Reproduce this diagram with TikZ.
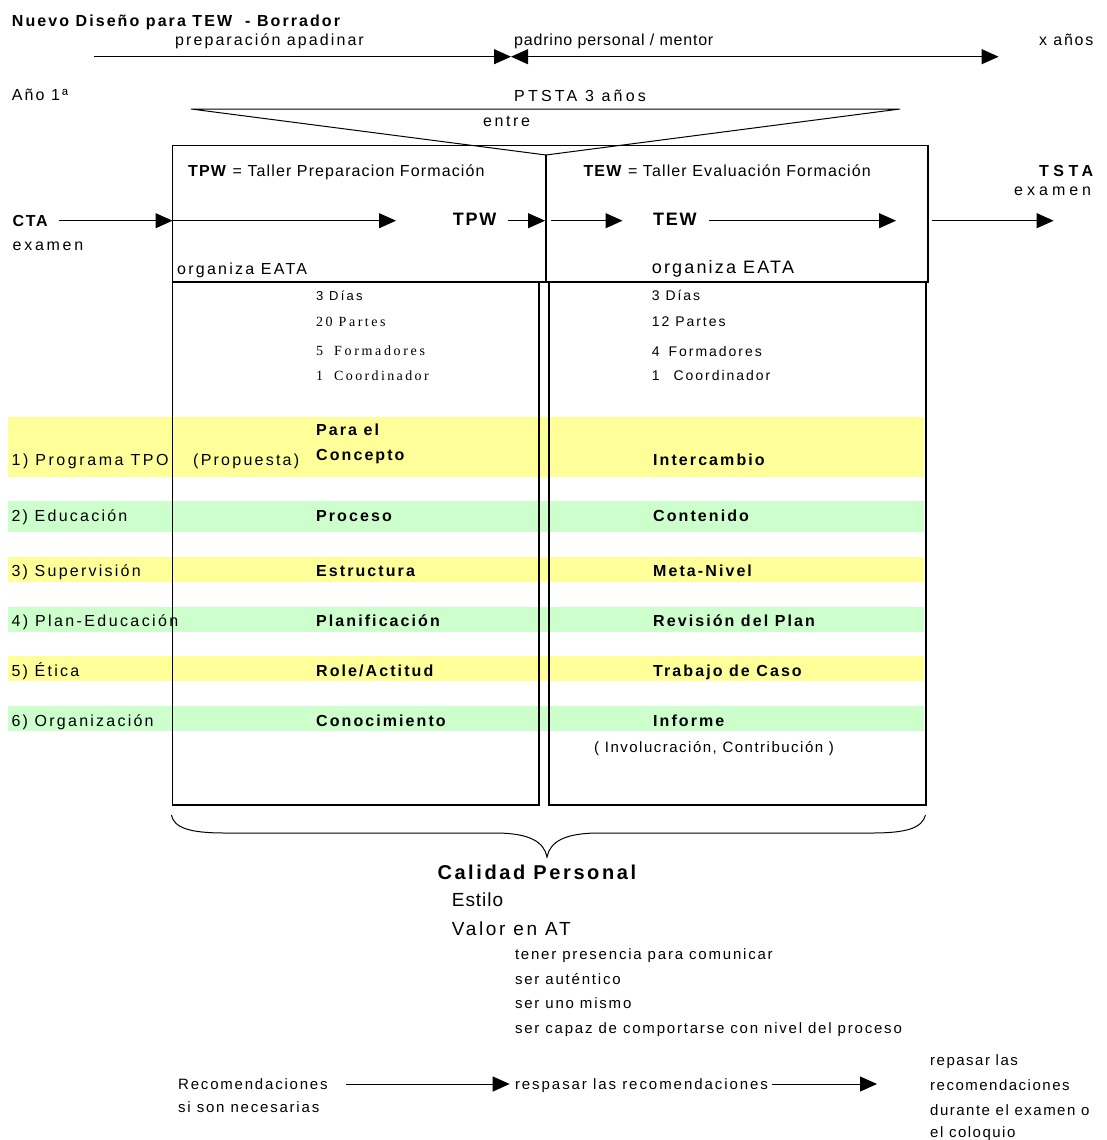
\documentclass[tikz,border=0pt]{standalone}
\usepackage{fontspec}
\setmainfont{Liberation Sans}
\newfontfamily\timesf{Liberation Serif}
\usetikzlibrary{arrows.meta}
\definecolor{bandY}{HTML}{FFFF99}
\definecolor{bandG}{HTML}{CCFFCC}
\newcommand\fz[2]{\fontsize{#1}{#1}\selectfont\addfontfeature{LetterSpace=#2}}
\tikzset{
  lbl/.style={inner sep=0pt, anchor=base west},
  boxline/.style={line width=1.5pt},
  thinline/.style={line width=1pt},
  arr/.style={line width=1pt, -{Triangle[length=17pt,width=15pt]}},
  arrboth/.style={line width=1pt, {Triangle[length=17pt,width=15pt]}-{Triangle[length=17pt,width=15pt]}},
  reg/.style={lbl, font=\fz{16}{14}},
  bld/.style={lbl, font=\bfseries\fz{16}{13}},
  small/.style={lbl, font=\fz{14}{14}},
  note/.style={lbl, font=\fz{15}{12}},
}
\begin{document}
\begin{tikzpicture}[x=1pt,y=-1pt]
\useasboundingbox (0,0) rectangle (1107,1140);
% bands
\fill[bandY] (8,417) rectangle (924,477);
\fill[bandG] (8,501) rectangle (924,532);
\fill[bandY] (8,557) rectangle (924,582);
\fill[bandG] (8,607) rectangle (924,632);
\fill[bandY] (8,656) rectangle (924,681);
\fill[bandG] (8,706) rectangle (924,731);

% top
\node[lbl, font=\bfseries\fz{16}{13}] (title) at (11.7,26.7) {Nuevo Diseño para TEW\ \ - Borrador};
\node[lbl, font=\fz{16}{13}] (prep) at (175,46) {preparación apadinar};
\node[lbl, font=\fz{16}{5}] (padr) at (514,46) {padrino personal / mentor};
\node[lbl, font=\fz{16}{11}] (xan) at (1039,46) {x años};
\coordinate (tl0) at (94,56.7);
\coordinate (tlm) at (511,56.7);
\coordinate (tle) at (998.6,56.7);
\draw[arr] (tl0) -- (tlm);
\draw[arrboth] (tlm) -- (tle);

\node[lbl, font=\fz{16}{13}] (ano) at (11.7,100) {Año 1ª};
\node[lbl, font=\fz{16}{20}] (ptsta) at (514,101) {PTSTA 3 años};
\node[lbl, font=\fz{16}{16}] (entre) at (483,126.5) {entre};
\draw[thinline, line join=miter] (191,109) -- (900,109) -- (546,155) -- cycle;

% top box
\draw[boxline] (172.5,145.7) rectangle (928,282);
\draw[boxline] (546,155) -- (546,282);
\node[lbl, font=\fz{16}{7}] (tpwdef) at (188,176.7) {\textbf{TPW} = Taller Preparacion Formación};
\node[lbl, font=\fz{16}{7}] (tewdef) at (583.4,176.7) {\textbf{TEW} = Taller Evaluación Formación};
\node[lbl, font=\bfseries\fz{16}{10}] (cta) at (12.5,226) {CTA};
\node[lbl, font=\fz{16}{17}] (exl) at (12.5,250) {examen};
\node[lbl, font=\bfseries\fz{18}{10}] (tpw) at (452.7,225) {TPW};
\node[lbl, font=\bfseries\fz{18}{10}] (tew) at (652.8,225) {TEW};
\node[lbl, font=\bfseries\fz{16}{28}] (tsta) at (1039,176.7) {TSTA};
\node[lbl, font=\fz{16}{25}] (exr) at (1014,195) {examen};
\node[lbl, font=\fz{16}{14}] (orgl) at (177,274) {organiza EATA};
\node[lbl, font=\fz{18}{12}] (orgr) at (651.7,273.3) {organiza EATA};

\coordinate (c0) at (59,220.7);
\coordinate (c1) at (172.5,220.7);
\coordinate (c2) at (396,220.7);
\coordinate (c3) at (508,220.7);
\coordinate (c4) at (545,220.7);
\coordinate (c5) at (551,220.7);
\coordinate (c6) at (622.5,220.7);
\coordinate (c7) at (709,220.7);
\coordinate (c8) at (896,220.7);
\coordinate (c9) at (932,220.7);
\coordinate (c10) at (1053.6,220.7);
\draw[arr] (c0) -- (c1);
\draw[arr] (c1) -- (c2);
\draw[arr] (c3) -- (c4);
\draw[arr] (c5) -- (c6);
\draw[arr] (c7) -- (c8);
\draw[arr] (c9) -- (c10);

% lower boxes
\draw[boxline] (172.5,282) -- (172.5,805) -- (539,805) -- (539,282);
\draw[boxline] (549,282) -- (549,805) -- (926,805) -- (926,282);

\node[lbl, font=\fz{13}{17}] (dl1) at (316,300) {3 Días};
\node[lbl, font=\timesf\fz{14}{18}] (dl2) at (316,326.7) {20 Partes};
\node[lbl, font=\timesf\fz{14}{19}] (dl3) at (316,355) {5\hspace{11pt}Formadores};
\node[lbl, font=\timesf\fz{14}{17}] (dl4) at (316,380.7) {1\hspace{11pt}Coordinador};
\node[small] (dr1) at (651.7,300.7) {3 Días};
\node[small] (dr2) at (651.7,326.7) {12 Partes};
\node[small] (dr3) at (651.7,356) {4\hspace{9pt}Formadores};
\node[small] (dr4) at (651.7,380) {1\hspace{14pt}Coordinador};

% band labels
\node[lbl, font=\fz{16}{16}] (b1l) at (11.4,465) {1) Programa TPO};
\node[reg] (b1p) at (193,465) {(Propuesta)};
\node[reg] (b2l) at (11.4,521.5) {2) Educación};
\node[reg] (b3l) at (11.4,576) {3) Supervisión};
\node[lbl, font=\fz{16}{15}] (b4l) at (11.4,626) {4) Plan-Educación};
\node[reg] (b5l) at (11.4,676) {5) Ética};
\node[reg] (b6l) at (11.4,726) {6) Organización};

\node[bld] (m1a) at (316,435.7) {Para el};
\node[bld] (m1b) at (316,460) {Concepto};
\node[bld] (m2) at (316,521.5) {Proceso};
\node[bld] (m3) at (316,576) {Estructura};
\node[bld] (m4) at (316,626) {Planificación};
\node[bld] (m5) at (316,676) {Role/Actitud};
\node[bld] (m6) at (316,726) {Conocimiento};

\node[bld] (r1) at (653,465) {Intercambio};
\node[bld] (r2) at (653,521.5) {Contenido};
\node[bld] (r3) at (653,576) {Meta-Nivel};
\node[bld] (r4) at (653,626) {Revisión del Plan};
\node[bld] (r5) at (653,676) {Trabajo de Caso};
\node[bld] (r6) at (653,726) {Informe};
\node[lbl, font=\fz{15}{10}] (inv) at (594,752) {( Involucración, Contribución )};

% brace
\draw[thinline] (171.4,815) .. controls (174,828) and (190,833) .. (225,833)
  -- (495,833) .. controls (530,833) and (544,842) .. (547,857)
  .. controls (550,842) and (564,833) .. (599,833)
  -- (872,833) .. controls (907,833) and (922,828) .. (925.5,815);

% bottom
\node[lbl, font=\bfseries\fz{20}{13}] (cal) at (437.3,879.3) {Calidad Personal};
\node[lbl, font=\fz{19}{5}] (est) at (451.7,906.7) {Estilo};
\node[lbl, font=\fz{19}{14}] (val) at (451.7,935) {Valor en AT};
\node[note] (q1) at (514.8,959) {tener presencia para comunicar};
\node[note] (q2) at (514.8,984) {ser auténtico};
\node[note] (q3) at (514.8,1008.5) {ser uno mismo};
\node[note] (q4) at (514.8,1033) {ser capaz de comportarse con nivel del proceso};

\node[note] (rec1) at (178,1089) {Recomendaciones};
\node[note] (rec2) at (178,1112) {si son necesarias};
\node[lbl, font=\fz{15}{13}] (resp) at (514.8,1089) {respasar las recomendaciones};
\node[lbl, font=\fz{15}{10}] (f1) at (930,1065) {repasar las};
\node[lbl, font=\fz{15}{10}] (f2) at (930,1090) {recomendaciones};
\node[lbl, font=\fz{15}{10}] (f3) at (930,1115) {durante el examen o};
\node[lbl, font=\fz{15}{10}] (f4) at (930,1137) {el coloquio};
\coordinate (ba0) at (346,1084);
\coordinate (ba1) at (509.7,1084);
\coordinate (ba2) at (772,1084);
\coordinate (ba3) at (877,1084);
\draw[arr] (ba0) -- (ba1);
\draw[arr] (ba2) -- (ba3);
\end{tikzpicture}
\end{document}
